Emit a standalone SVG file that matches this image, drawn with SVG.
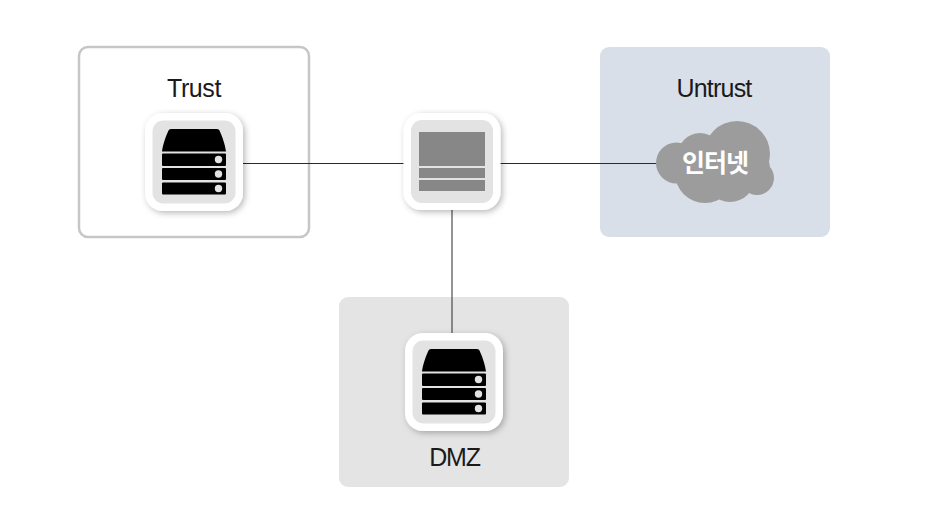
<svg xmlns="http://www.w3.org/2000/svg" width="942" height="526" viewBox="0 0 942 526">
<defs>
<filter id="sh" x="-20%" y="-20%" width="150%" height="150%"><feDropShadow dx="2" dy="2" stdDeviation="3" flood-color="#000" flood-opacity="0.28"/></filter>
<g id="srv">
<rect x="-49" y="-49" width="98" height="98" rx="18" class="white" filter="url(#sh)"/>
<rect x="-41.500" y="-41.500" width="83" height="83" rx="11" fill="#e3e3e3"/>
<path d="M-32,-10.500 C-31,-18 -28,-26 -25.500,-31.500 Q-25,-33 -23,-33 L23,-33 Q25,-33 25.500,-31.500 C28,-26 31,-18 32,-10.500 Z" fill="#000"/>
<rect x="-32" y="-8.500" width="64" height="12.500" rx="1" fill="#000"/>
<rect x="-32" y="6" width="64" height="12" rx="1" fill="#000"/>
<rect x="-32" y="20.500" width="64" height="12" rx="1" fill="#000"/>
<circle cx="24.500" cy="-2.500" r="3.700" fill="#e3e3e3"/>
<circle cx="24.500" cy="12" r="3.700" fill="#e3e3e3"/>
<circle cx="24.500" cy="26.500" r="3.700" fill="#e3e3e3"/>
</g>
</defs>
<style>
.white{fill:#fff}
.lbl{font-family:"Liberation Sans",Arial,sans-serif;font-size:25px;fill:#1a1a1a;text-anchor:middle;letter-spacing:-0.8px}
.ln{stroke:#2a2a2a;stroke-width:1;fill:none}
.cl{fill:#9c9c9c}
</style>
<rect width="942" height="526" fill="#fff"/>
<g id="zone-trust">
<rect x="79" y="47" width="230" height="190" rx="9" fill="#fff" stroke="#c6c6c6" stroke-width="2.500"/>
<text class="lbl" x="194" y="97" style="letter-spacing:-0.400px">Trust</text>
</g>
<g id="zone-untrust">
<rect x="600" y="47" width="230" height="190" rx="9" fill="#d8dfe9"/>
<text class="lbl" x="714" y="97">Untrust</text>
</g>
<g id="zone-dmz">
<rect x="339" y="297" width="230" height="190" rx="9" fill="#e4e4e4"/>
<text class="lbl" x="454.500" y="466" style="letter-spacing:-1.200px">DMZ</text>
</g>
<g id="connectors">
<line class="ln" x1="243" y1="163.500" x2="404" y2="163.500"/>
<line class="ln" x1="500" y1="163.500" x2="660" y2="163.500"/>
<line class="ln" x1="452" y1="210" x2="452" y2="333" stroke-width="1.200"/>
</g>
<g id="trust-server"><use href="#srv" x="194" y="162"/></g>
<g id="firewall">
<rect x="403.500" y="113" width="97" height="97" rx="18" class="white" filter="url(#sh)"/>
<rect x="411" y="120" width="82" height="83" rx="11" fill="#e3e3e3"/>
<rect x="419" y="132" width="66" height="34" fill="#878787"/>
<rect x="419" y="168" width="66" height="10" fill="#878787"/>
<rect x="419" y="180" width="66" height="11" fill="#878787"/>
</g>
<g id="internet">
<circle class="cl" cx="737" cy="154" r="33"/>
<circle class="cl" cx="700" cy="155" r="22"/>
<circle class="cl" cx="676.500" cy="163" r="20.500"/>
<circle class="cl" cx="705" cy="173" r="30"/>
<circle class="cl" cx="730" cy="177" r="25"/>
<circle class="cl" cx="757" cy="178" r="17"/>
<circle class="cl" cx="752" cy="168" r="18"/>
<text x="715" y="172" font-family="Noto Sans CJK KR,sans-serif" font-size="25" font-weight="700" fill="#fff" text-anchor="middle" letter-spacing="-1">인터넷</text>
</g>
<g id="dmz-server"><use href="#srv" x="454" y="382"/></g>
</svg>
